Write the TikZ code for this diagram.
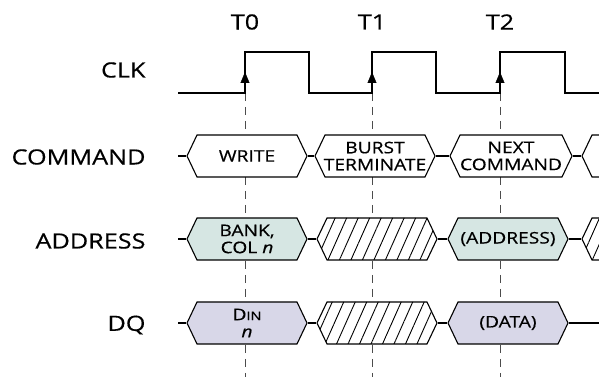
\documentclass[tikz,border=0pt]{standalone}
\usepackage{fontspec}
\setmainfont{Open Sans}[FakeStretch=1.2,FakeBold=0.5]
\usetikzlibrary{shapes.symbols}
\usetikzlibrary{patterns.meta}
\usetikzlibrary{arrows.meta}
\usepackage{xcolor}
\definecolor{addrfill}{RGB}{214,230,227}
\definecolor{dqfill}{RGB}{216,215,232}

\begin{document}
\begin{tikzpicture}[x=10bp,y=10bp,
        bus/.style={draw, line width=1.1bp, fill=white, signal, signal to=east and west,
            signal pointer angle=129, minimum width=120bp, minimum height=42bp, inner sep=0pt},
        hatched/.style={bus, postaction={pattern={Lines[angle=66,distance=10.5bp,line width=0.9bp]}}},
        wire/.style={line width=1.1bp},
        tick/.style={line width=0.9bp, black!70, dash pattern=on 8bp off 6bp},
        edge/.style={-{Triangle[length=11bp,width=9bp]}},
        txt/.style={font=\fontsize{16bp}{17bp}\selectfont, align=center},
        siglabel/.style={font=\fontsize{21bp}{24bp}\selectfont, anchor=east},
        tlabel/.style={font=\fontsize{21bp}{24bp}\selectfont}]
        \useasboundingbox (0,0) rectangle (59.9,37.7);

        \coordinate (C0) at (17.8,28.4);
        \coordinate (E0) at (24.5,28.4);
        \coordinate (E1) at (37.2,28.4);
        \coordinate (E2) at (50.0,28.4);
        \coordinate (C9) at (59.9,28.4);

        \coordinate (B0) at (24.5,0);
        \coordinate (B1) at (37.2,0);
        \coordinate (B2) at (50.0,0);

        \coordinate (cmdin) at (17.8,22.1);
        \coordinate (addrin) at (17.8,13.8);
        \coordinate (dqin) at (17.8,5.4);
        \coordinate (dqout) at (59.9,5.4);

        % signal names
        \node[siglabel] (clk) at (14.9,30.7) {CLK};
        \node[siglabel] (cmd) at (14.9,22.0) {COMMAND};
        \node[siglabel] (addr) at (14.9,13.6) {ADDRESS};
        \node[siglabel] (dq) at (14.9,5.2) {DQ};

        \node[tlabel] (t0) at (24.5,35.5) {T0};
        \node[tlabel] (t1) at (37.2,35.5) {T1};
        \node[tlabel] (t2) at (50.0,35.5) {T2};

        % clock
        \draw[tick] (E0) -- (B0);
        \draw[tick] (E1) -- (B1);
        \draw[tick] (E2) -- (B2);

        \draw[line width=1.2bp] (C0) -- (E0) --++ (0,4.1) --++ (6.4,0) --++ (0,-4.1) -- (E1) --++ (0,4.1) --++ (6.4,0) --++ (0,-4.1) -- (E2) --++ (0,4.1) --++ (6.5,0) --++ (0,-4.1) -- (C9);

        \draw[edge] (E0) --++ (0,2.1);
        \draw[edge] (E1) --++ (0,2.1);
        \draw[edge] (E2) --++ (0,2.1);

        % command
        \node[bus] (write) at (24.7,22.1) {};
        \node[bus] (burst) at (37.5,22.1) {};
        \node[bus, minimum width=122bp] (next) at (51.1,22.1) {};
        \node[bus] (cmdmore) at (64.2,22.1) {};
        \node[txt] (writetxt) at (write) {WRITE};
        \node[txt] (bursttxt) at (burst) {BURST\\TERMINATE};
        \node[txt] (nexttxt) at (next) {NEXT\\COMMAND};

        \draw[wire] (cmdin) -- (write.west);
        \draw[wire] (write.east) -- (burst.west);
        \draw[wire] (burst.east) -- (next.west);
        \draw[wire] (next.east) -- (cmdmore.west);

        % address
        \node[bus, fill=addrfill] (bank) at (24.7,13.8) {};
        \node[hatched] (addrx1) at (37.7,13.8) {};
        \node[bus, fill=addrfill] (nextaddr) at (50.8,13.8) {};
        \node[hatched] (addrx2) at (64.2,13.8) {};
        \node[txt] (banktxt) at (bank) {BANK,\\COL \textit{n}};
        \node[txt] (nextaddrtxt) at (nextaddr) {(ADDRESS)};

        \draw[wire] (addrin) -- (bank.west);
        \draw[wire] (bank.east) -- (addrx1.west);
        \draw[wire] (addrx1.east) -- (nextaddr.west);
        \draw[wire] (nextaddr.east) -- (addrx2.west);

        % data
        \node[bus, fill=dqfill] (din) at (24.7,5.4) {};
        \node[hatched] (dqx1) at (37.7,5.4) {};
        \node[bus, fill=dqfill] (data) at (50.8,5.4) {};
        \node[txt] (dintxt) at (din) {D{\fontsize{12bp}{12bp}\selectfont IN}\\\textit{n}};
        \node[txt] (datatxt) at (data) {(DATA)};

        \draw[wire] (dqin) -- (din.west);
        \draw[wire] (din.east) -- (dqx1.west);
        \draw[wire] (dqx1.east) -- (data.west);
        \draw[wire] (data.east) -- (dqout);
    \end{tikzpicture}
\end{document}
